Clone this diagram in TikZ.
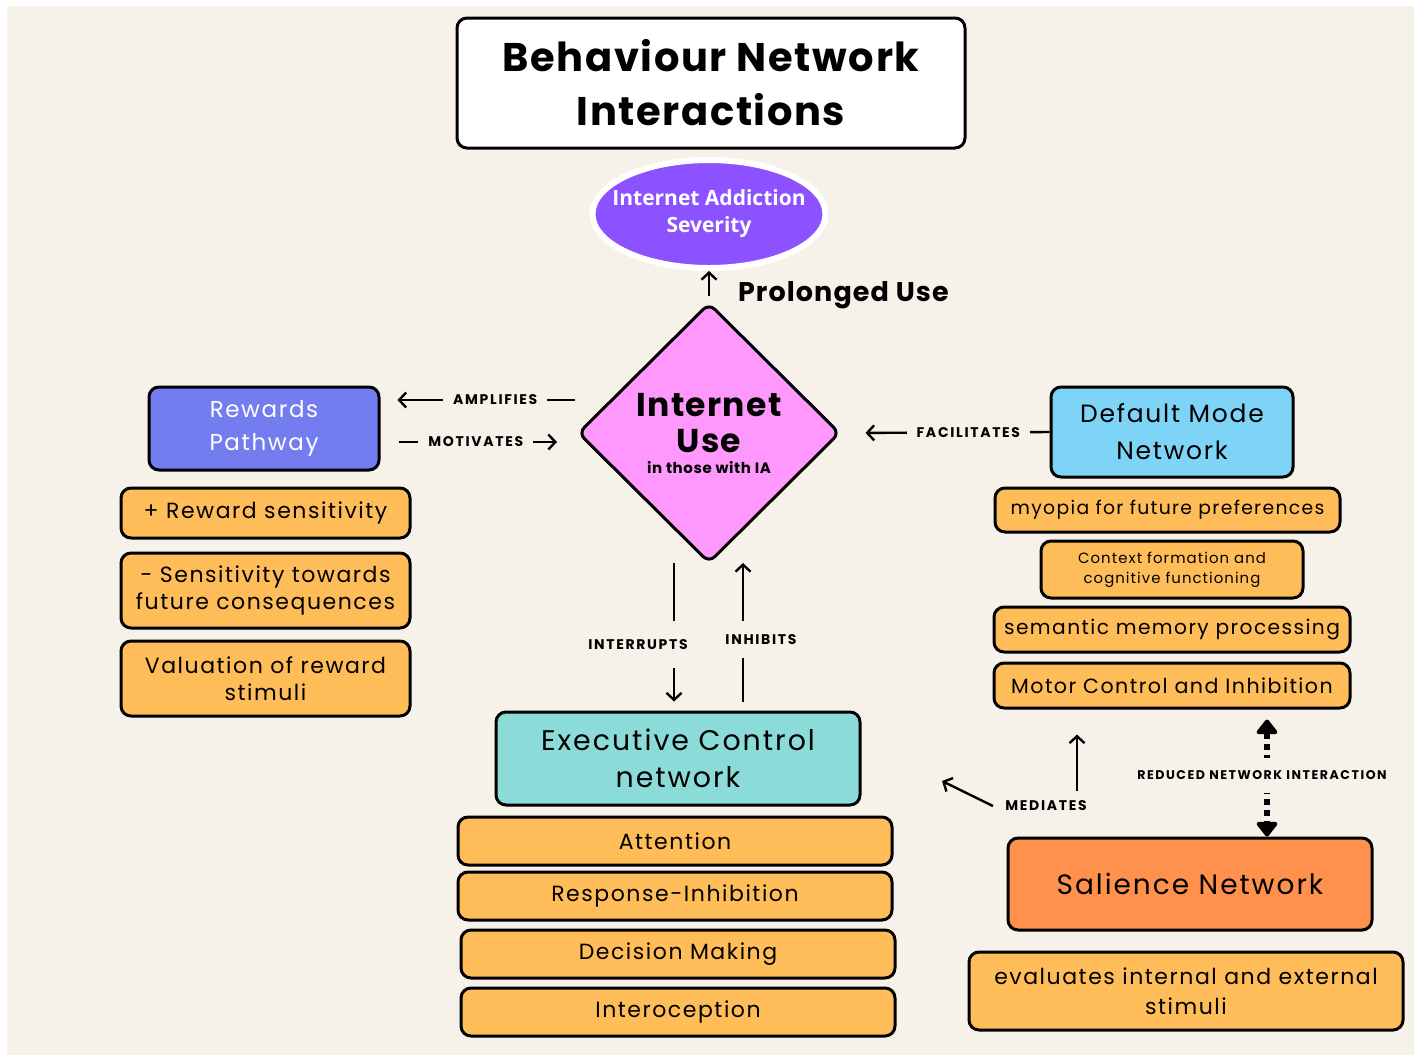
\documentclass[tikz,border=0pt]{standalone}
\usepackage{fontspec}
\setmainfont{Poppins}
\newfontfamily\headfont[LetterSpace=4]{Poppins}
\newfontfamily\boxfont[LetterSpace=7]{Poppins}
\newfontfamily\labfont[LetterSpace=12]{Poppins}
\newfontfamily\sevfont{Open Sans}
\usetikzlibrary{shapes.geometric,arrows.meta,calc}
\definecolor{bgcream}{HTML}{F6F2E9}
\definecolor{itemorange}{HTML}{FFBD59}
\definecolor{salorange}{HTML}{FF914D}
\definecolor{rewblue}{HTML}{737DF0}
\definecolor{dmnblue}{HTML}{7ED4F6}
\definecolor{ecnteal}{HTML}{8BDCD9}
\definecolor{usepink}{HTML}{FF98FC}
\definecolor{sevpurple}{HTML}{8C52FF}

\begin{document}
\begin{tikzpicture}[x=0.5pt,y=-0.5pt,
        box/.style={draw,line width=1.5pt,rounded corners=5pt,align=center,inner sep=0pt},
        item/.style={box,fill=itemorange,minimum width=144.5pt,font=\boxfont\fontsize{11}{13.5}\selectfont},
        lab/.style={fill=bgcream,inner xsep=5pt,inner ysep=3pt,font=\labfont\bfseries\fontsize{7}{8}\selectfont},
        link/.style={line width=1.2pt,-{Straight Barb[length=3.5pt,width=7.5pt]}},
        dots/.style={line width=3pt,dash pattern=on 3pt off 2.5pt,
                {Triangle[round,width=12pt,length=8pt]}-{Triangle[round,width=12pt,length=8pt]}}]
        \useasboundingbox (0,0) rectangle (1419,1057);
        \fill[white] (0,0) rectangle (1419,1057);
        \fill[bgcream] (7,6) rectangle (1414,1055);
        % title and severity
        \node[box,fill=white,minimum width=254pt,minimum height=65pt,font=\headfont\bfseries\fontsize{20}{27}\selectfont] (title) at (711,83) {Behaviour Network\\Interactions};
        \node[ellipse,draw=white,line width=3pt,fill=sevpurple,minimum width=116.5pt,minimum height=54pt,inner xsep=-25pt,inner ysep=-8pt,align=center,text=white,font=\sevfont\bfseries\fontsize{10.5}{13.5}\selectfont] (sev) at (709,214) {Internet Addiction\\Severity};
        \node[diamond,draw,line width=1.5pt,fill=usepink,minimum width=131pt,minimum height=130pt,inner sep=0pt,rounded corners=4pt,align=center,font=\headfont\bfseries\fontsize{16.5}{18}\selectfont] (use) at (709,433) {Internet\\Use\\[-7.5pt]{\fontsize{7.5}{9}\selectfont in those with IA}};
        \node[anchor=west,font=\headfont\bfseries\fontsize{13.5}{16}\selectfont] (prol) at (731,295) {Prolonged Use};
        % networks
        \node[box,fill=rewblue,text=white,minimum width=115pt,minimum height=41.5pt,font=\boxfont\fontsize{11.5}{16.5}\selectfont] (rew) at (264,428.5) {Rewards\\Pathway};
        \node[box,fill=dmnblue,minimum width=121pt,minimum height=45pt,font=\boxfont\fontsize{12.5}{18.5}\selectfont] (dmn) at (1172,432) {Default Mode\\Network};
        \node[box,fill=ecnteal,minimum width=182pt,minimum height=46.5pt,font=\boxfont\fontsize{14.2}{18.5}\selectfont] (ecn) at (678,758.5) {Executive Control\\network};
        \node[box,fill=salorange,minimum width=182pt,minimum height=46pt,font=\boxfont\fontsize{14}{18}\selectfont] (sal) at (1190,884) {Salience Network};
        % rewards items
        \node[item,minimum height=25pt] (rw1) at (265.5,513) {+ Reward sensitivity};
        \node[item,minimum height=37.5pt] (rw2) at (265.5,590.5) {- Sensitivity towards\\future consequences};
        \node[item,minimum height=37.5pt] (rw3) at (265.5,678.5) {Valuation of reward\\stimuli};
        % default mode items
        \node[item,minimum width=172.5pt,minimum height=22pt,font=\boxfont\fontsize{9.4}{12}\selectfont] (dm1) at (1167.5,510) {myopia for future preferences};
        \node[item,minimum width=131pt,minimum height=28.5pt,font=\boxfont\fontsize{7.45}{10}\selectfont] (dm2) at (1172,569.5) {Context formation and\\cognitive functioning};
        \node[item,minimum width=178pt,minimum height=22.5pt,font=\boxfont\fontsize{10.1}{13}\selectfont] (dm3) at (1172,629.5) {semantic memory processing};
        \node[item,minimum width=178pt,minimum height=22.5pt,font=\boxfont\fontsize{10.3}{13}\selectfont] (dm4) at (1172,685.5) {Motor Control and Inhibition};
        % executive items
        \node[item,minimum width=217pt,minimum height=24pt] (ec1) at (675,841) {Attention};
        \node[item,minimum width=217pt,minimum height=24pt] (ec2) at (675,896) {Response-Inhibition};
        \node[item,minimum width=217pt,minimum height=24pt] (ec3) at (678,954) {Decision Making};
        \node[item,minimum width=217pt,minimum height=24pt] (ec4) at (678,1012) {Interoception};
        % salience item
        \node[item,minimum width=217pt,minimum height=39pt,font=\boxfont\fontsize{11}{15}\selectfont] (sl1) at (1186,991) {evaluates internal and external\\stimuli};
        % connectors
        \coordinate (ampS) at (575,400);
        \coordinate (motE) at (557,442);
        \coordinate (intS) at (674,563);
        \coordinate (inhE) at (743,563);
        \coordinate (medT) at (942,781);
        \coordinate (medU) at (1077,791);
        \coordinate (redX) at (1267,0);
        \draw[link,shorten <=2.75pt] (use.north) -- (sev.south);
        \draw[link,shorten >=8.5pt] (ampS) -- node[lab,pos=.41] {AMPLIFIES} (rew.east |- ampS);
        \draw[link,shorten <=9pt] (rew.east |- motE) -- node[lab,pos=.54] {MOTIVATES} (motE);
        \draw[link,shorten >=12pt] (dmn.west) -- node[lab,pos=.39] {FACILITATES} (use.east);
        \draw[link,shorten >=4.5pt] (intS) -- node[lab,pos=.55,xshift=-18pt,inner ysep=9.25pt] {INTERRUPTS} (intS |- ecn.north);
        \draw[link,shorten <=4.5pt] (inhE |- ecn.north) -- node[lab,pos=.48,xshift=9pt,inner ysep=6.75pt] {INHIBITS} (inhE);
        \node[font=\labfont\bfseries\fontsize{7}{8}\selectfont,inner xsep=6pt] (med) at (1046,806) {MEDIATES};
        \draw[link] (med.west) -- (medT);
        \draw[link,shorten >=12.5pt] (medU) -- (medU |- dm4.south);
        \draw[dots,shorten <=5pt] (dm4.south -| redX) -- node[lab,pos=.52,xshift=-2.5pt,inner ysep=6.5pt,font=\labfont\bfseries\fontsize{6.3}{8}\selectfont] {REDUCED NETWORK INTERACTION} (sal.north -| redX);
\end{tikzpicture}
\end{document}
